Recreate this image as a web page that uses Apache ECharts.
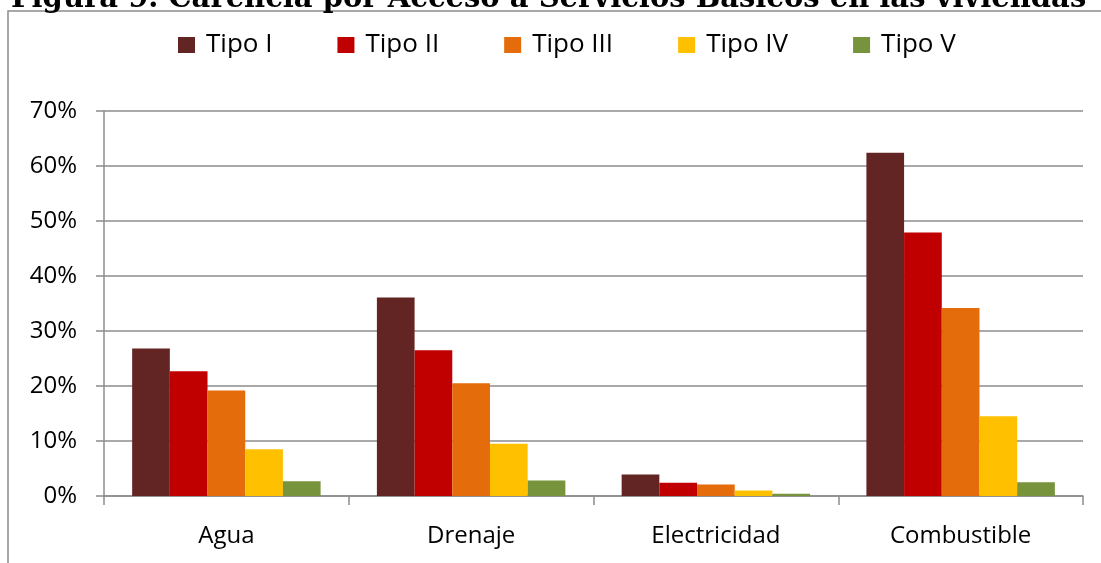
<!DOCTYPE html>
<html>
<head>
<meta charset="utf-8">
<script src="https://cdn.jsdelivr.net/npm/echarts@6/dist/echarts.min.js"></script>
<style>
  html, body { margin: 0; padding: 0; background: #fff; }
  #main { width: 1101px; height: 563px; }
</style>
</head>
<body>
<div id="main"></div>
<script>
const categories = ['Agua', 'Drenaje', 'Electricidad', 'Combustible']
const tipoI = [0.268, 0.361, 0.039, 0.624]
const tipoII = [0.227, 0.265, 0.024, 0.479]
const tipoIII = [0.192, 0.205, 0.021, 0.342]
const tipoIV = [0.085, 0.095, 0.010, 0.145]
const tipoV = [0.027, 0.028, 0.004, 0.025]
const seriesNames = ['Tipo I', 'Tipo II', 'Tipo III', 'Tipo IV', 'Tipo V']
const colors = ['#632523', '#C00000', '#E46C0A', '#FFC000', '#77933C']

const chartDom = document.getElementById('main')
const myChart = echarts.init(chartDom)

const gray = '#8c8c8c'
const font = 'Open Sans'

const makeBar = (name, data, i) => ({
    name,
    type: 'bar',
    data,
    barGap: '0%',
    barCategoryGap: '23%',
    itemStyle: { color: colors[i] }
})

const option = {
    animation: false,
    color: colors,
    graphic: [
        {
            type: 'rect',
            z: -1,
            shape: { x: 8, y: 11, width: 1200, height: 600 },
            style: { fill: 'none', stroke: gray, lineWidth: 1.5 }
        },
        {
            // titulo cortado arriba, como en la figura original
            type: 'text',
            left: 11,
            top: -15,
            style: {
                text: 'Figura 9. Carencia por Acceso a Servicios Básicos en las viviendas',
                font: 'bold 29px "DejaVu Serif"',
                fill: '#000'
            }
        }
    ],
    legend: {
        left: 178,
        top: 32,
        padding: 0,
        itemGap: 65,
        itemWidth: 17,
        itemHeight: 16,
        icon: 'rect',
        textStyle: {
            fontFamily: font,
            fontSize: 26,
            color: '#000',
            padding: [0, 0, 0, 6]
        }
    },
    grid: {
        left: 104,
        right: 18,
        top: 111,
        bottom: 67,
        containLabel: false
    },
    xAxis: {
        type: 'category',
        data: categories,
        axisLine: { lineStyle: { color: gray, width: 1.5 } },
        axisTick: { show: true, length: 9, lineStyle: { color: gray, width: 1.5 } },
        axisLabel: {
            fontFamily: font,
            fontSize: 24,
            color: '#000',
            margin: 28
        }
    },
    yAxis: {
        type: 'value',
        min: 0,
        max: 0.7,
        interval: 0.1,
        axisLine: { show: true, lineStyle: { color: gray, width: 1.5 } },
        axisTick: { show: true, length: 8, lineStyle: { color: gray, width: 1.5 } },
        splitLine: { lineStyle: { color: gray, width: 1.5 } },
        axisLabel: {
            fontFamily: font,
            fontSize: 24,
            color: '#000',
            margin: 27,
            formatter: (v) => Math.round(v * 100) + '%'
        }
    },
    series: [
        makeBar(seriesNames[0], tipoI, 0),
        makeBar(seriesNames[1], tipoII, 1),
        makeBar(seriesNames[2], tipoIII, 2),
        makeBar(seriesNames[3], tipoIV, 3),
        makeBar(seriesNames[4], tipoV, 4)
    ]
}

option && myChart.setOption(option)
</script>
</body>
</html>
